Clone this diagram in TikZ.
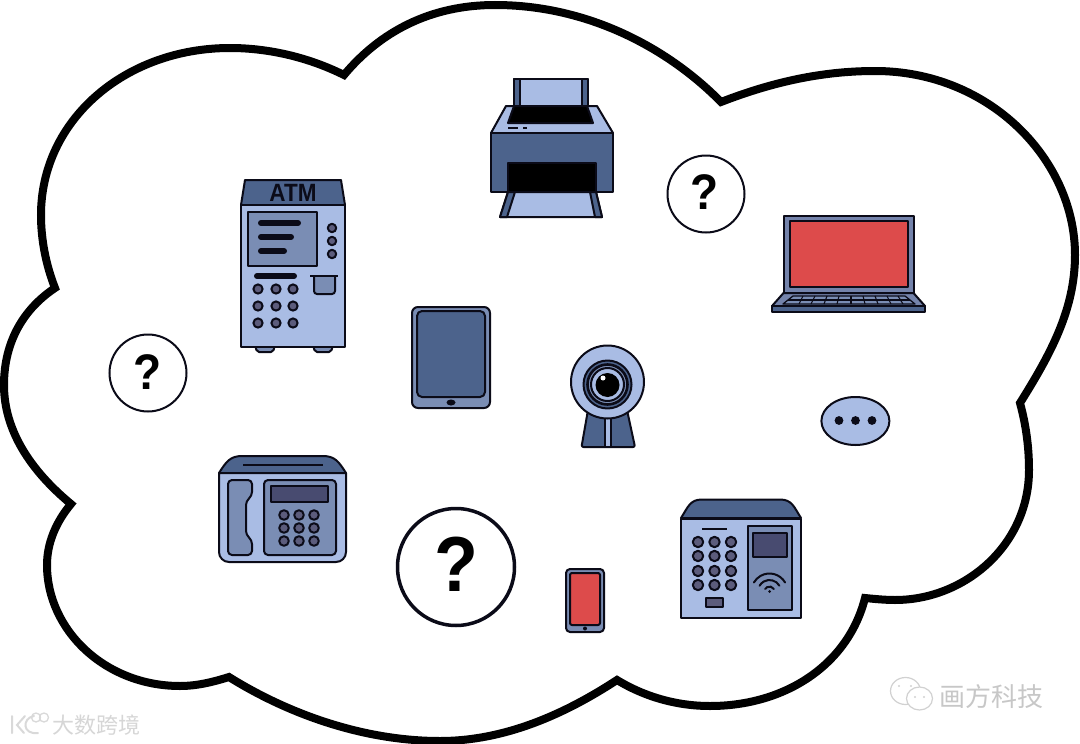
\documentclass[tikz,border=0pt]{standalone}
\usepackage{fontspec}
\setmainfont{Liberation Sans}
\newfontfamily\cjkf{Noto Sans CJK SC}
\definecolor{ink}{HTML}{0B0B18}
\definecolor{lite}{HTML}{A9BCE4}
\definecolor{deep}{HTML}{4C638C}
\definecolor{mid}{HTML}{7A8DB4}
\definecolor{btn}{HTML}{5C5C7C}
\definecolor{disp}{HTML}{484B70}
\definecolor{lap}{HTML}{7483AB}
\definecolor{redd}{HTML}{DD4B4B}
\tikzset{
 part/.style={draw=ink,line width=2pt,line join=round},
 thin part/.style={draw=ink,line width=1.3pt,line join=round},
 bar/.style={draw=ink,line width=6pt,line cap=round},
 qmark/.style={draw=ink,fill=white,circle,inner sep=0pt},
 qtext/.style={text=black,inner sep=0pt,xscale=.92},
 logoline/.style={draw=black!18,line width=1.2pt,fill=white},
 logostroke/.style={draw=black!15,line width=2pt,line cap=round}
}
\begin{document}
\begin{tikzpicture}[x=1pt,y=-1pt]
\useasboundingbox (0,0) rectangle (1080,744);
\fill[white] (0,0) rectangle (1080,744);
% cloud
\draw[draw=black,line width=8pt,line join=miter,miter limit=4,fill=white]
 (344,75) .. controls (380,32) and (430,5) .. (495,5)
 .. controls (590,5) and (670,50) .. (721,102)
 .. controls (770,83) and (820,71) .. (875,71)
 .. controls (990,71) and (1075,160) .. (1075,255)
 .. controls (1075,310) and (1050,355) .. (1020,403)
 .. controls (1026,425) and (1029,447) .. (1029,470)
 .. controls (1029,545) and (965,600) .. (895,600)
 .. controls (885,600) and (875,599) .. (865,598)
 .. controls (848,665) and (785,706) .. (710,706)
 .. controls (677,706) and (645,697) .. (617,680)
 .. controls (565,714) and (505,741) .. (440,741)
 .. controls (365,741) and (290,715) .. (229,677)
 .. controls (213,682) and (197,686) .. (180,686)
 .. controls (105,686) and (47,630) .. (47,565)
 .. controls (47,543) and (56,522) .. (71,504)
 .. controls (30,470) and (4,430) .. (4,385)
 .. controls (4,340) and (25,308) .. (55,288)
 .. controls (46,265) and (41,240) .. (41,215)
 .. controls (41,120) and (125,48) .. (230,48)
 .. controls (270,48) and (310,58) .. (344,75)
 -- cycle;
% question marks
\node[qmark,line width=2pt,minimum size=77pt] (q1) at (148,373) {};
\node[qtext,font=\bfseries\fontsize{50}{50}\selectfont] (q1t) at (148,372) {?};
\node[qmark,line width=2pt,minimum size=77pt] (q2) at (706,194) {};
\node[qtext,font=\bfseries\fontsize{50}{50}\selectfont] (q2t) at (705,192) {?};
\node[qmark,line width=3.5pt,minimum size=117pt] (q3) at (456,567) {};
\node[qtext,font=\bfseries\fontsize{78}{78}\selectfont] (q3t) at (456,564) {?};
% ATM
\draw[part,fill=mid,rounded corners=2pt] (255,345) -- (257,352) -- (273,352) -- (275,345);
\draw[part,fill=mid,rounded corners=2pt] (313,345) -- (315,352) -- (331,352) -- (333,345);
\draw[part,fill=deep] (241,205) -- (245,180) -- (341,180) -- (345,205) -- cycle;
\node[font=\bfseries\fontsize{25}{25}\selectfont,text=ink,inner sep=0pt,xscale=.9] (atm) at (293,193) {ATM};
\draw[part,fill=lite] (241,205) rectangle (345,347);
\draw[part,fill=mid] (248,212) rectangle (317,266);
\draw[bar] (261,223) -- (298,223) (261,237) -- (291,237) (261,251) -- (284,251) (257,276) -- (294,276);
\foreach \y in {228,241,254} \draw[part,fill=btn] (332,\y) circle[radius=4.2];
\foreach \x in {258,276,293} \foreach \y in {289,306,323} \draw[part,fill=btn] (\x,\y) circle[radius=4.6];
\draw[part,fill=mid] (314,276) -- (314,291) arc[start angle=180,end angle=90,radius=3] -- (332,294) arc[start angle=90,end angle=0,radius=3] -- (335,276);
\draw[draw=ink,line width=2.2pt] (310,276) -- (338,276);
% printer
\draw[part,fill=lite] (514,79) rectangle (588,106);
\draw[part,fill=deep] (514,79) rectangle (520,106) (582,79) rectangle (588,106);
\draw[part,fill=lite] (491,133) -- (506,106) -- (597,106) -- (613,133) -- cycle;
\draw[part,fill=black] (508,123) -- (514,106) -- (587,106) -- (593,123) -- cycle;
\draw[draw=ink,line width=2pt] (508,128) -- (518,128) (523,128) -- (527,128);
\draw[part,fill=lite] (500,217) -- (508,192) -- (596,192) -- (602,217) -- cycle;
\draw[part,fill=deep] (500,217) -- (508,192) -- (515,192) -- (507,217) -- cycle;
\draw[part,fill=deep] (602,217) -- (596,192) -- (590,192) -- (595,217) -- cycle;
\fill[deep] (491,133) rectangle (613,192);
\draw[part] (491,133) rectangle (613,192);
\draw[part,fill=black] (508,163) rectangle (596,192);
% laptop
\draw[part,fill=lap] (783.5,216) rectangle (913.5,293);
\draw[part,fill=redd] (790,221) rectangle (908,287);
\draw[part,fill=lap] (772,306) -- (783.5,293) -- (913.5,293) -- (925,306) -- cycle;
\draw[part,fill=deep] (772,306) rectangle (925,312);
\draw[thin part,fill=mid] (783,304) -- (793,296) -- (905,296) -- (915,304) -- cycle;
\foreach \a/\b in {803/799,815/811,827/824,839/837,851/851,863/865,875/878,887/891,898/903} \draw[draw=ink,line width=1.1pt] (\a,296) -- (\b,304);
\draw[draw=ink,line width=1.1pt] (788,300) -- (910,300);
% tablet
\draw[part,fill=mid,rounded corners=6pt] (412,307) rectangle (490,408);
\draw[part,fill=deep,rounded corners=5pt] (417,311) rectangle (485,397);
\fill[ink] (451,402.5) ellipse[x radius=4.5,y radius=3];
% webcam
\draw[part,fill=deep,rounded corners=2pt] (588,410) -- (581.5,447) -- (635,447) -- (627,410) -- cycle;
\draw[part,fill=lite] (604.5,418) rectangle (610.5,447);
\draw[part,fill=lite] (607.5,382) circle[radius=36.5];
\draw[part,fill=deep] (607.5,384.5) circle[radius=24];
\draw[draw=ink,line width=2.6pt,fill=mid] (607.5,384.5) circle[radius=20];
\draw[part,fill=lite] (607.5,384.5) circle[radius=16.5];
\fill[black] (607.5,385) circle[radius=12];
\fill[white] (603,378) circle[radius=2.5];
% speech
\draw[part,fill=lite] (855.4,421) ellipse[x radius=34,y radius=24];
\foreach \x in {839,855.5,872} \fill[ink] (\x,420.5) circle[radius=4.4];
% desk phone
\draw[part,fill=deep] (219,473) .. controls (226,462) and (230,456) .. (242,456) -- (323,456) .. controls (335,456) and (339,462) .. (346,473) -- cycle;
\draw[draw=ink,line width=2pt] (243,465) -- (323,465);
\draw[part,fill=lite] (219,473) {[rounded corners=10pt] -- (219,562) -- (346,562)} -- (346,473) -- cycle;
\draw[part,fill=mid,rounded corners=4pt] (228,480) -- (252,480) -- (252,496) -- (246,501) -- (246,535) -- (252,540) -- (252,555) -- (228,555) -- cycle;
\draw[part,fill=mid,rounded corners=4pt] (264,480) rectangle (336,555);
\draw[part,fill=disp] (271,486) rectangle (328,502);
\foreach \x in {284,299,314} \foreach \y in {515,528,541} \draw[part,fill=btn] (\x,\y) circle[radius=4.8];
% access device
\draw[part,fill=deep] (681,518) .. controls (688,507) and (690,499.5) .. (702,499.5) -- (780,499.5) .. controls (792,499.5) and (794,507) .. (801,518) -- cycle;
\draw[part,fill=lite] (681,519) rectangle (801,618);
\draw[draw=ink,line width=2pt] (702,529) -- (727,529);
\foreach \x in {698,714.5,731} \foreach \y in {542,556,571,585} \draw[part,fill=btn] (\x,\y) circle[radius=5.2];
\draw[part,fill=btn] (706,598) rectangle (723,607);
\draw[part,fill=mid] (748,526) rectangle (792,610);
\draw[part,fill=disp] (753,533) rectangle (787,557);
\foreach \r in {5,11.5,18} \draw[draw=ink,line width=2pt,line cap=round] (769.5,591.5) ++(-30:\r) arc[start angle=-30,end angle=-150,radius=\r];
\fill[ink] (769.5,591.5) circle[radius=1.5];
% small phone
\draw[part,fill=mid,rounded corners=4pt] (566,569) rectangle (604,632);
\draw[part,fill=redd,rounded corners=2pt] (570,573) rectangle (600,625);
\fill[ink] (585,628.5) circle[radius=2];
% watermarks
\node[font=\cjkf\fontsize{22}{22}\selectfont,text=black!16,inner sep=0pt,anchor=west] (wm1) at (52,725) {大数跨境};
\node[font=\cjkf\fontsize{26}{26}\selectfont,text=black!22,inner sep=0pt,anchor=west] (wm2) at (939,697) {画方科技};
\draw[logostroke] (12,716) -- (12,733) (25,716) -- (17,725) -- (24,733) (34,716) .. controls (22,718) and (22,735) .. (38,733);
\draw[logostroke,line width=1.3pt] (36,717.5) circle[radius=4.5] (44,717.5) circle[radius=4.5];
\draw[logoline] (905.5,691) ellipse[x radius=15,y radius=13.5];
\draw[logoline] (919.5,698.5) ellipse[x radius=13,y radius=11.5];
\fill[black!18] (899,686) circle[radius=1.2] (911,686) circle[radius=1.2] (915,697) circle[radius=1.2] (924,697) circle[radius=1.2];
\end{tikzpicture}
\end{document}
